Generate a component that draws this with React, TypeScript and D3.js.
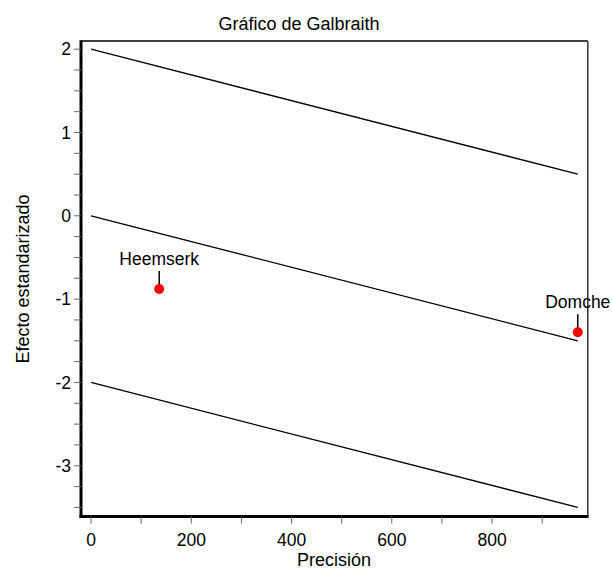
import React from "react";
import * as d3 from "d3";

const studies = ["Heemserk", "Domche"];
const precision = [136, 971];
const stdEffect = [-0.878, -1.398];
const bandOffsets = [2, 0, -2];
const pooledSlope = -1.5 / 971;
const xTickValues = [0, 100, 200, 300, 400, 500, 600, 700, 800, 900];
const xTickLabels = ["0", "", "200", "", "400", "", "600", "", "800", ""];
const yTickValues = d3.range(-3.5, 2.01, 0.25);
const yLabeled = [2, 1, 0, -1, -2, -3];

const W = 612;
const H = 571;
const FONT = "'Liberation Sans', Arial, sans-serif";

export default function App() {
  const x = d3.scaleLinear().domain([-20, 991]).range([81, 587.8]);
  const y = d3.scaleLinear().domain([2.098, -3.61]).range([41, 516.6]);
  const maxP = d3.max(precision) as number;
  const line = d3
    .line<[number, number]>()
    .x((d) => x(d[0]))
    .y((d) => y(d[1]));

  const [x0, x1] = x.range();
  const [y0, y1] = y.range();

  return (
    <svg
      width={W}
      height={H}
      style={{ position: "absolute", left: 0, top: 0, background: "#fff" }}
      fontFamily={FONT}
    >
      <rect x={0} y={0} width={W} height={H} fill="#fff" />
      <text x={299} y={30} textAnchor="middle" fontSize={18} fill="#000">
        Gráfico de Galbraith
      </text>

      {/* frame */}
      <line x1={x0} x2={x1} y1={y0} y2={y0} stroke="#000" strokeWidth={1.5} />
      <line x1={x1} x2={x1} y1={y0} y2={y1} stroke="#333" strokeWidth={1.5} />
      <line x1={x0} x2={x0} y1={y0 - 0.75} y2={y1 + 1.5} stroke="#000" strokeWidth={3} />
      <line x1={x0 - 1.5} x2={x1 + 0.75} y1={y1} y2={y1} stroke="#000" strokeWidth={3} />

      {/* y ticks */}
      {yTickValues.map((v, i) => (
        <line key={"yt" + i} x1={x0 - 7} x2={x0} y1={y(v)} y2={y(v)} stroke="#666" strokeWidth={1} />
      ))}
      {yLabeled.map((v) => (
        <text
          key={"yl" + v}
          x={71}
          y={y(v)}
          dy="0.35em"
          textAnchor="end"
          fontSize={17.5}
          fill="#000"
        >
          {v < 0 ? "-" + Math.abs(v) : String(v)}
        </text>
      ))}

      {/* x ticks */}
      {xTickValues.map((v, i) => (
        <g key={"xt" + i}>
          <line x1={x(v)} x2={x(v)} y1={y1} y2={y1 + 7} stroke="#666" strokeWidth={1} />
          {xTickLabels[i] && (
            <text x={x(v)} y={546} textAnchor="middle" fontSize={17.5} fill="#000">
              {xTickLabels[i]}
            </text>
          )}
        </g>
      ))}

      <text x={334} y={566} textAnchor="middle" fontSize={18} fill="#000">
        Precisión
      </text>
      <text
        transform={`translate(29, 279) rotate(-90)`}
        textAnchor="middle"
        fontSize={18}
        fill="#000"
      >
        Efecto estandarizado
      </text>

      {/* band lines */}
      {bandOffsets.map((b, i) => (
        <path
          key={"bl" + i}
          d={line([
            [0, b],
            [maxP, b + pooledSlope * maxP],
          ]) as string}
          fill="none"
          stroke="#000"
          strokeWidth={1.3}
        />
      ))}

      {/* points with labels */}
      {studies.map((s, i) => {
        const px = x(precision[i]);
        const py = y(stdEffect[i]);
        return (
          <g key={s}>
            <line x1={px} x2={px} y1={py - 18} y2={py - 2} stroke="#000" strokeWidth={1.5} />
            <circle cx={px} cy={py} r={5} fill="#f00" />
            <text x={px} y={py - 24} textAnchor="middle" fontSize={17.5} fill="#000">
              {s}
            </text>
          </g>
        );
      })}
    </svg>
  );
}
